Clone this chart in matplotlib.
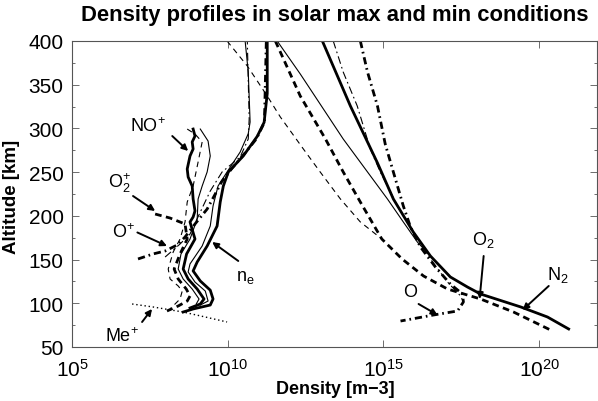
import numpy as np
import matplotlib
matplotlib.use("Agg")
import matplotlib.pyplot as plt

plt.rcParams['font.family'] = ['Liberation Sans', 'DejaVu Sans']
plt.rcParams['mathtext.fontset'] = 'custom'
plt.rcParams['mathtext.rm'] = 'Liberation Sans'
plt.rcParams['mathtext.it'] = 'Liberation Sans:italic'
plt.rcParams['mathtext.bf'] = 'Liberation Sans:bold'

# Profiles: altitude [km] and log10 of density [m^-3]
# neutrals
n2_max_alt = [400, 325.7, 260.5, 219.3, 181.5, 154.1, 130.1, 118.6, 110.6, 95.8, 84.3, 70.6]
n2_max_log = [13.04, 13.94, 14.81, 15.32, 15.96, 16.51, 17.15, 17.70, 18.12, 19.41, 20.27, 20.95]
n2_min_alt = [400, 362.3, 287.9, 250.2, 219.3, 193.0, 170.1, 154.1]
n2_min_log = [11.59, 12.33, 13.71, 14.49, 15.13, 15.64, 16.09, 16.51]

o2_max_alt = [400, 337.1, 287.9, 250.2, 215.8, 173.5, 150.7, 131.2, 116.3, 104.9, 90.0, 68.0]
o2_max_log = [11.53, 12.33, 13.14, 13.71, 14.26, 14.95, 15.60, 16.29, 17.06, 18.12, 19.18, 20.45]
o2_min_alt = [400, 371.4, 337.1, 313.1, 276.5, 250.2, 219.3, 193.0, 173.5]
o2_min_log = [9.98, 10.63, 11.27, 11.69, 12.43, 12.97, 13.62, 14.26, 14.95]

o_max_alt = [400, 364.5, 325.7, 282, 250.2, 211.3, 187.3, 164.4, 141.5, 122, 110.6, 101.5, 91.2, 86.6, 79.7]
o_max_log = [14.26, 14.49, 14.81, 15.06, 15.32, 15.64, 15.87, 16.19, 16.67, 17.15, 17.54, 17.57, 17.38, 16.61, 15.55]
o_min_alt = [400, 364.5, 325.7, 276.5, 250.2, 211.3, 181.5, 150.7, 124.3, 108.3, 101.5]
o_min_log = [13.39, 13.71, 14.16, 14.58, 14.90, 15.45, 15.96, 16.51, 17.06, 17.48, 17.57]

# ions
ne_max_alt = [400, 340, 307, 291, 268.5, 250.2, 234.1, 215.8, 188.4, 165.5, 147.2, 137, 125.5, 115, 104.9, 98, 93.5, 90]
ne_max_log = [11.27, 11.27, 11.17, 10.95, 10.50, 10.02, 9.86, 9.76, 9.66, 9.34, 9.02, 8.89, 9.12, 9.44, 9.53, 9.44, 8.89, 8.57]
ne_min_alt = [400, 364.5, 307.4, 294, 273, 250.2, 234.1, 211.3, 188.4, 165.5, 145, 135.8, 124.3, 114, 102.6, 98]
ne_min_log = [10.56, 10.66, 10.72, 10.66, 10.40, 9.98, 9.69, 9.53, 9.44, 9.18, 8.79, 8.73, 8.95, 9.28, 9.37, 9.12]

nop_max_alt = [299.3, 291.3, 284.5, 276.5, 268.5, 253.6, 244.4, 234.1, 219.3, 205.6, 198.7, 193, 173.5, 156.4, 139.2, 127.8, 116.3, 104.9, 99.2, 94.6]
nop_max_log = [8.89, 8.95, 8.86, 8.89, 8.79, 8.70, 8.73, 8.86, 8.89, 8.95, 8.89, 8.79, 8.95, 8.68, 8.57, 8.73, 9.02, 9.24, 9.12, 8.79]
nop_min_alt = [299.3, 285.6, 268.5, 250.2, 234.1, 219.3, 196.4, 173.5, 156.4, 139.2, 127.8, 116.3, 104.9, 99.2]
nop_min_log = [9.12, 9.37, 9.44, 9.34, 9.18, 9.05, 9.02, 8.79, 8.50, 8.41, 8.57, 8.86, 9.08, 8.99]

o2p_max_alt = [202.1, 197.5, 190.7, 173.5, 156.4, 139.2, 127.8, 116.3, 108.3, 102.6, 96.9, 91.2]
o2p_max_log = [7.67, 8.15, 8.63, 8.70, 8.47, 8.28, 8.41, 8.67, 8.79, 8.70, 8.41, 8.05]
o2p_min_alt = [299.3, 293.6, 284.5, 261.6, 234.1, 215.8, 193.0, 173.5, 158.7, 139.2, 127.8, 119.8, 114, 104.9, 93.5]
o2p_min_log = [8.70, 8.95, 9.18, 9.05, 8.89, 8.70, 8.63, 8.47, 8.25, 8.09, 8.15, 8.41, 8.54, 8.47, 8.15]

op_max_alt = [150.7, 156.4, 159.8, 166.7, 175.8, 190.7, 207.8, 225, 238.7, 253.6, 270.8, 288, 307, 400]
op_max_log = [7.12, 7.60, 7.99, 8.38, 8.63, 8.95, 9.34, 9.60, 9.80, 10.12, 10.53, 10.92, 11.18, 11.24]
op_min_alt = [152.9, 167.8, 179.2, 204.4, 228.4, 250.2, 267.3, 287.9, 310.8, 400]
op_min_log = [7.99, 8.47, 8.79, 9.12, 9.44, 9.82, 10.40, 10.66, 10.69, 10.63]

mep_alt = [99.2, 95.8, 90.0, 84.3, 78.6]
mep_log = [6.93, 7.60, 8.57, 9.28, 9.98]

thick = 2.0
thin = 0.8
dash_thick = (0, (2.4, 1.6))
dash_thin = (0, (5, 4))
dashdot_thick = (0, (2.6, 1.4, 0.6, 1.4))
dashdot_thin = (0, (7, 3, 1.5, 3))

profiles = [
    (n2_min_alt, n2_min_log, '-', thin),
    (n2_max_alt, n2_max_log, '-', thick),
    (o2_min_alt, o2_min_log, dash_thin, thin),
    (o2_max_alt, o2_max_log, dash_thick, thick),
    (o_min_alt, o_min_log, dashdot_thin, thin),
    (o_max_alt, o_max_log, dashdot_thick, thick),
    (ne_min_alt, ne_min_log, '-', thin),
    (ne_max_alt, ne_max_log, '-', thick),
    (nop_min_alt, nop_min_log, '-', thin),
    (nop_max_alt, nop_max_log, '-', thick),
    (o2p_min_alt, o2p_min_log, dash_thin, thin),
    (o2p_max_alt, o2p_max_log, dash_thick, thick),
    (op_min_alt, op_min_log, dashdot_thin, thin),
    (op_max_alt, op_max_log, dashdot_thick, thick),
    (mep_alt, mep_log, (0, (1, 2)), 1.0),
]

fig = plt.figure(figsize=(5.98, 4.02), dpi=100)
ax = fig.add_axes([72/598, 1 - 348/402, 525/598, 306/402])

for alt, lg, ls, lw in profiles:
    ax.plot(10.0 ** np.array(lg), alt, color='black', linestyle=ls, linewidth=lw)

ax.set_xscale('log')
ax.set_xlim(1e5, 10 ** 21.86)
ax.set_ylim(50, 400)
ax.set_xticks([1e5, 1e10, 1e15, 1e20])
ax.xaxis.set_minor_locator(matplotlib.ticker.NullLocator())
ax.set_yticks(np.arange(50, 401, 50))
ax.set_yticks(np.arange(75, 400, 50), minor=True)
ax.tick_params(which='both', direction='in', top=True, right=True,
               labelsize=15, color='#555555')
ax.tick_params(which='major', length=5, width=0.6)
ax.tick_params(which='minor', length=2.5, width=0.6)
ax.tick_params(axis='x', pad=8)
ax.tick_params(axis='y', pad=6)
for sp in ax.spines.values():
    sp.set_color('#555555')
    sp.set_linewidth(0.8)

fig.text(335/598, 1 - 15/402, 'Density profiles in solar max and min conditions',
         ha='center', va='center', fontsize=15.8, fontweight='bold')
fig.text(12/598, 1 - 197/402, 'Altitude [km]', rotation=90,
         ha='center', va='center', fontsize=13.5, fontweight='bold')
fig.text(335/598, 1 - 390/402, 'Density [m\u22123]',
         ha='center', va='center', fontsize=13, fontweight='bold')

# labels with arrows: (text, text position, arrow start, arrow tip) as (log10 n, alt)
labels = [
    ('NO$^{+}$', (7.44, 302.8), (8.22, 291.3), (8.73, 274.2)),
    ('O$_{2}^{+}$', (6.54, 238.7), (6.96, 222.7), (7.67, 205.6)),
    ('O$^{+}$', (6.64, 181.5), (7.10, 181.0), (8.05, 165.5)),
    ('$\\mathregular{n_e}$', (10.56, 131.2), (10.34, 148.4), (9.50, 170.1)),
    ('Me$^{+}$', (6.61, 62.6), (7.25, 78.6), (7.57, 93.5)),
    ('O', (15.87, 113.0), (16.13, 99.2), (16.74, 86.6)),
    ('O$_{2}$', (18.22, 173.5), (18.22, 154.1), (18.09, 104.9)),
    ('N$_{2}$', (20.60, 133.5), (20.31, 119.8), (19.47, 92.3)),
]
for txt, pos, start, tip in labels:
    ax.text(10 ** pos[0], pos[1], txt, ha='center', va='center', fontsize=13)
    ax.annotate('', xy=(10 ** tip[0], tip[1]), xytext=(10 ** start[0], start[1]),
                arrowprops=dict(arrowstyle='-|>', color='black', lw=1.4,
                                mutation_scale=9, shrinkA=0, shrinkB=0))

fig.savefig('out.png', dpi=100)
